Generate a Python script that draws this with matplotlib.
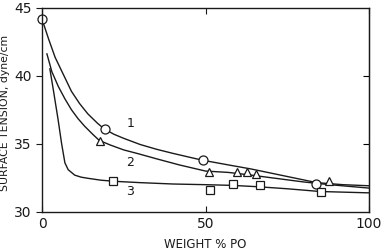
import matplotlib.pyplot as plt

# measured points (weight % PO, surface tension)
circ_x = [0, 19.2, 49.2, 83.7]
circ_y = [44.15, 36.06, 33.8, 32.05]
tri_x = [17.6, 51.2, 59.7, 62.6, 65.4, 87.8]
tri_y = [35.24, 32.9, 32.95, 32.95, 32.8, 32.25]
sq_x = [21.7, 51.4, 58.5, 66.7, 85.3]
sq_y = [32.3, 31.6, 32.07, 32.0, 31.46]

# drawn curves
c1_x = [0, 2, 4, 6.5, 9, 11.5, 14, 17, 19, 22, 25, 30, 35, 40, 45, 49, 57, 64, 72, 80, 84, 92, 100]
c1_y = [44.15, 42.7, 41.35, 40.1, 38.85, 37.95, 37.2, 36.5, 36.1, 35.7, 35.4, 34.95, 34.6,
        34.3, 34.02, 33.8, 33.45, 33.15, 32.75, 32.35, 32.15, 32.0, 31.92]
c2_x = [1.5, 3, 5, 7, 9, 11, 13, 15.5, 17.5, 21, 25, 29, 35, 42, 50, 57, 64, 72, 80, 88, 100]
c2_y = [41.6, 40.3, 39.2, 38.3, 37.5, 36.85, 36.3, 35.7, 35.25, 34.9, 34.55, 34.3, 33.9, 33.45,
        33.0, 32.9, 32.7, 32.45, 32.2, 32.0, 31.75]
c3_x = [2.4, 3.5, 4.9, 6, 7, 8, 10, 12, 14, 18, 22, 30, 40, 50, 58, 66, 75, 85, 100]
c3_y = [40.5, 38.9, 36.8, 35.0, 33.6, 33.1, 32.7, 32.55, 32.47, 32.33, 32.25, 32.15, 32.05,
        32.0, 31.95, 31.85, 31.7, 31.5, 31.4]

curve_labels = ['1', '2', '3']
label_x = 27
label_y = [36.5, 33.6, 31.5]

fig = plt.figure(figsize=(3.82, 2.52), dpi=100)
ax = fig.add_axes([0.110, 0.159, 0.856, 0.811])

lc = '#1a1a1a'
ax.plot(c1_x, c1_y, color=lc, lw=1.0)
ax.plot(c2_x, c2_y, color=lc, lw=1.0)
ax.plot(c3_x, c3_y, color=lc, lw=1.0)
ax.plot(circ_x, circ_y, 'o', mfc='white', mec=lc, ms=6.5, mew=0.9, clip_on=False)
ax.plot(tri_x, tri_y, '^', mfc='white', mec=lc, ms=6, mew=0.9)
ax.plot(sq_x, sq_y, 's', mfc='white', mec=lc, ms=5.5, mew=0.9)

for t, yy in zip(curve_labels, label_y):
    ax.text(label_x, yy, t, fontsize=9, ha='center', va='center', color=lc)

ax.set_xlim(0, 100)
ax.set_ylim(30, 45)
ax.set_xticks([0, 50, 100])
ax.set_yticks([30, 35, 40, 45])
ax.tick_params(axis='x', direction='in', top=True, length=4, labelsize=10, colors=lc)
ax.tick_params(axis='y', direction='out', length=4, labelsize=10, colors=lc)
sec = ax.secondary_yaxis('right')
sec.set_yticks([35, 40])
sec.tick_params(direction='in', length=4, labelright=False)
for s in ax.spines.values():
    s.set_color(lc)
    s.set_linewidth(1.0)

ax.set_xlabel('WEIGHT % PO', fontsize=8.5, color=lc, labelpad=5)
ax.set_ylabel('SURFACE TENSION, dyne/cm', fontsize=7.8, color=lc)
ax.yaxis.set_label_coords(-0.098, 0.485)

fig.savefig('out.png', dpi=100)
